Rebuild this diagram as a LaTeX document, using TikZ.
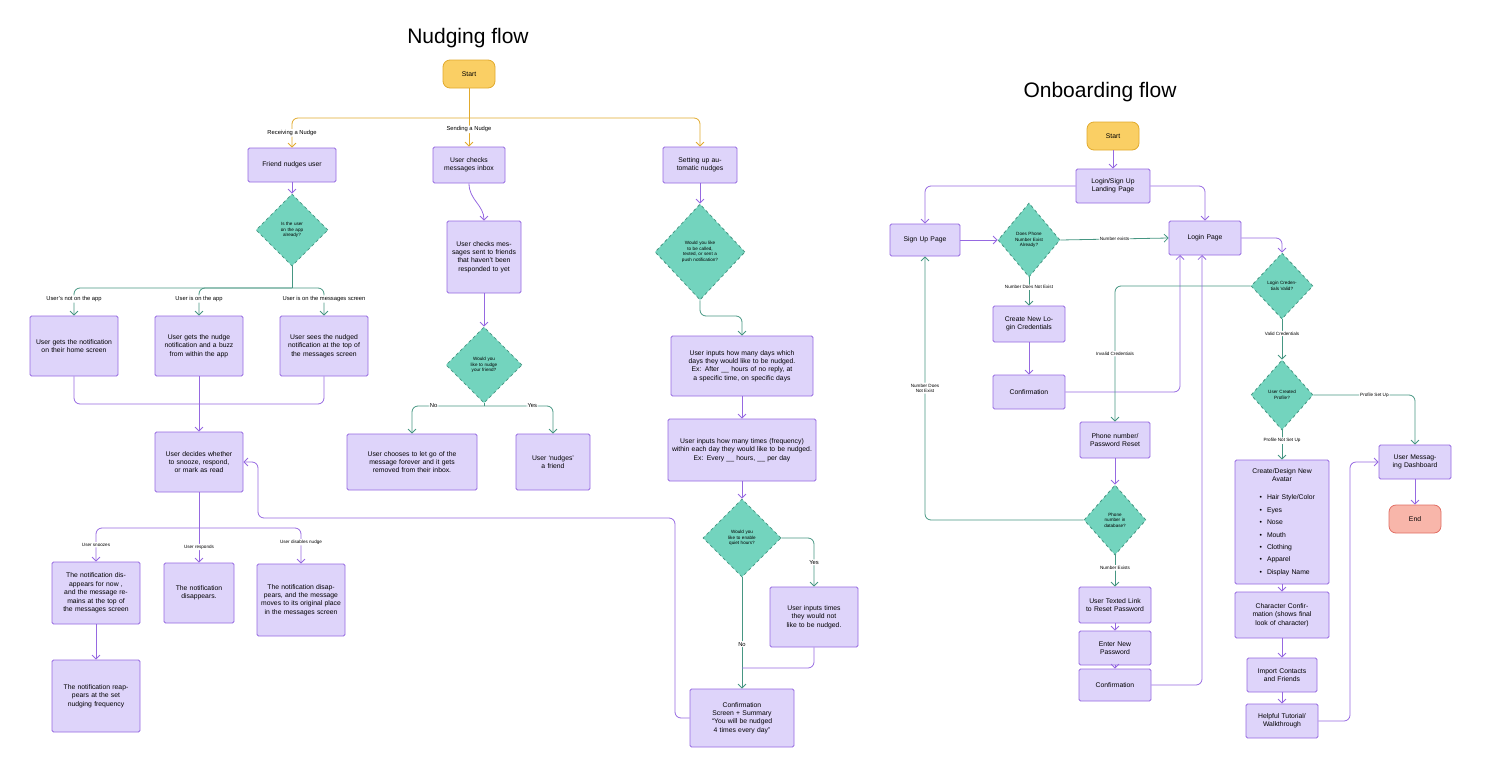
\documentclass[tikz,border=0pt]{standalone}
\usepackage{fontspec}
\setmainfont{Liberation Sans}
\usetikzlibrary{shapes.geometric,arrows.meta}
\definecolor{FlowBoxFill}{RGB}{222,212,250}
\definecolor{FlowBoxDraw}{RGB}{150,105,225}
\definecolor{FlowDiaFill}{RGB}{115,212,190}
\definecolor{FlowDiaDraw}{RGB}{70,150,130}
\definecolor{FlowStartFill}{RGB}{250,207,100}
\definecolor{FlowStartDraw}{RGB}{225,170,45}
\definecolor{FlowEndFill}{RGB}{248,182,170}
\definecolor{FlowEndDraw}{RGB}{225,110,100}

\begin{document}
\begin{tikzpicture}[x=1pt,y=-1pt,
  bx/.style n args={2}{draw=FlowBoxDraw,fill=FlowBoxFill,line width=0.8pt,rounded corners=1.5pt,
    minimum width=#1,minimum height=#2,text width=#1pt-8pt,align=center,inner sep=2pt,
    font=\fontsize{6.8}{8.4}\selectfont},
  dia/.style n args={3}{diamond,draw=FlowDiaDraw,fill=FlowDiaFill,dashed,line width=0.8pt,
    minimum width=#1,minimum height=#2,inner sep=0pt,text width=#3,align=center,
    font=\fontsize{4.6}{5.6}\selectfont},
  term/.style={draw=FlowStartDraw,fill=FlowStartFill,line width=0.8pt,rounded corners=7pt,
    minimum width=52,minimum height=28,font=\fontsize{6.8}{8}\selectfont},
  lbl/.style={fill=white,inner sep=1pt,font=\fontsize{5.8}{7}\selectfont},
  slbl/.style={fill=white,inner sep=1pt,font=\fontsize{4.6}{5.6}\selectfont},
  pl/.style={draw=FlowBoxDraw,line width=0.8pt,rounded corners=6pt},
  tl/.style={draw=FlowDiaDraw,line width=0.8pt,rounded corners=6pt},
  yl/.style={draw=FlowStartDraw,line width=0.8pt,rounded corners=6pt},
  >={Straight Barb[length=4pt,width=8pt]}]
\useasboundingbox (0,0) rectangle (1500,763);

% nudging flow
\node[font=\fontsize{21}{24}\selectfont] (t1) at (468,38) {Nudging flow};
\node[term] (s1) at (469,74) {Start};
\node[bx={88}{34}] (fr) at (292,165) {Friend nudges user};
\node[dia={72}{72}{34}] (d1) at (292,230) {Is the user on the app already?};
\node[bx={88}{60}] (b1) at (74,346) {User gets the notification on their home screen};
\node[bx={88}{60}] (b2) at (199,346) {User gets the nudge notification and a buzz from within the app};
\node[bx={88}{60}] (b3) at (324,346) {User sees the nudged notification at the top of the messages screen};
\node[bx={88}{60}] (dec) at (199,462) {User decides whether to snooze, respond, or mark as read};
\node[bx={88}{62}] (sn) at (96,593) {The notification disappears for now , and the message remains at the top of the messages screen};
\node[bx={70}{60}] (rs) at (199,593) {The notification disappears.};
\node[bx={88}{72}] (ds) at (301,600) {The notification disappears, and the message moves to its original place in the messages screen};
\node[bx={88}{72}] (ra) at (96,696) {The notification reappears at the set nudging frequency};
\node[bx={72}{36}] (ib) at (469,165) {User checks messages inbox};
\node[bx={74}{72}] (sm) at (484,257) {User checks messages sent to friends that haven't been responded to yet};
\node[dia={76}{76}{36}] (d2) at (484,365) {Would you like to nudge your friend?};
\node[bx={130}{56}] (lg) at (412,462) {User chooses to let go of the message forever and it gets removed from their inbox.};
\node[bx={74}{56}] (ng) at (553,462) {User `nudges' a friend};
\node[bx={74}{36}] (au) at (700,165) {Setting up automatic nudges};
\node[dia={90}{96}{42}] (d3) at (700,252) {Would you like to be called, texted, or sent a push notification?};
\node[bx={142}{60}] (i1) at (742,366) {User inputs how many days which days they would like to be nudged.\\Ex: After \_\_ hours of no reply, at a specific time, on specific days};
\node[bx={148}{62}] (i2) at (742,450) {User inputs how many times (frequency) within each day they would like to be nudged.\\Ex: Every \_\_ hours, \_\_ per day};
\node[dia={78}{78}{36}] (d4) at (742,538) {Would you like to enable quiet hours?};
\node[bx={88}{60}] (qt) at (814,617) {User inputs times they would not like to be nudged.};
\node[bx={104}{58}] (cf) at (742,718) {Confirmation Screen + Summary\\``You will be nudged 4 times every day''};

\draw[yl] (s1.south) -- (469,118);
\draw[yl,->] (469,118) -| node[lbl,pos=0.75]{Receiving a Nudge} (fr.north);
\draw[yl,->] (469,118) -- node[lbl,pos=0.4]{Sending a Nudge} (ib.north);
\draw[yl,->] (469,118) -| (au.north);
\draw[pl,->] (fr) -- (d1);
\draw[tl] (d1.south) -- (292,288);
\draw[tl,->] (292,288) -| node[lbl,pos=0.7]{User's not on the app} (b1.north);
\draw[tl,->] (292,288) -| node[lbl,pos=0.7]{User is on the app} (b2.north);
\draw[tl,->] (292,288) -| node[lbl,pos=0.7]{User is on the messages screen} (b3.north);
\draw[pl] (b1.south) |- (199,404);
\draw[pl] (b3.south) |- (199,404);
\draw[pl,->] (b2.south) -- (dec.north);
\draw[pl] (dec.south) -- (199,528);
\draw[pl,->] (199,528) -| node[slbl,pos=0.75]{User snoozes} (sn.north);
\draw[pl,->] (199,528) -- node[slbl,pos=0.55]{User responds} (rs.north);
\draw[pl,->] (199,528) -| node[slbl,pos=0.7]{User disables nudge} (ds.north);
\draw[pl,->] (sn) -- (ra);
\draw[pl,->] (ib.south) .. controls (469,200) and (484,205) .. (sm.north);
\draw[pl,->] (sm) -- (d2);
\draw[tl] (d2.south) -- (484,406);
\draw[tl,->] (484,406) -| node[lbl,pos=0.35]{No} (lg.north);
\draw[tl,->] (484,406) -| node[lbl,pos=0.35]{Yes} (ng.north);
\draw[pl,->] (au) -- (d3);
\draw[tl,->] (d3.south) |- (742,316) -- (i1.north);
\draw[pl,->] (i1) -- (i2);
\draw[pl,->] (i2) -- (d4);
\draw[tl,->] (d4.east) -| node[lbl,pos=0.75]{Yes} (qt.north);
\draw[tl,->] (d4.south) -- node[lbl,pos=0.6]{No} (cf.north);
\draw[pl] (qt.south) |- (742,668);
\draw[pl,->] (cf.west) -| (675,518) -| (258,462) -- (dec.east);

% onboarding flow
\node[font=\fontsize{21}{24}\selectfont] (t2) at (1100,92) {Onboarding flow};
\node[term] (s2) at (1113,136) {Start};
\node[bx={74}{34}] (lp) at (1113,186) {Login/Sign Up Landing Page};
\node[bx={70}{32}] (su) at (925,240) {Sign Up Page};
\node[bx={72}{34}] (li) at (1205,238) {Login Page};
\node[dia={62}{74}{30}] (d5) at (1029,240) {Does Phone Number Exist Already?};
\node[bx={72}{36}] (cr) at (1029,324) {Create New Login Credentials};
\node[bx={72}{34}] (c2) at (1029,392) {Confirmation};
\node[dia={62}{66}{30}] (d6) at (1282,286) {Login Credentials Valid?};
\node[dia={62}{70}{30}] (d7) at (1282,395) {User Created Profile?};
\node[bx={72}{34}] (db) at (1415,462) {User Messaging Dashboard};
\node[term,draw=FlowEndDraw,fill=FlowEndFill] (en) at (1415,519) {End};
\node[bx={94}{124},align=left,text width=80] (av) at (1282,522) {\centering Create/Design New Avatar\par
  \begin{itemize}\setlength{\itemsep}{0pt}\setlength{\parsep}{0pt}\setlength{\topsep}{1pt}\setlength{\leftmargin}{8pt}
  \item Hair Style/Color \item Eyes \item Nose \item Mouth \item Clothing \item Apparel \item Display Name\end{itemize}};
\node[bx={94}{46}] (cc) at (1282,615) {Character Confirmation (shows final look of character)};
\node[bx={70}{34}] (im) at (1282,675) {Import Contacts and Friends};
\node[bx={72}{34}] (tu) at (1282,721) {Helpful Tutorial/ Walkthrough};
\node[bx={70}{36}] (pr) at (1115,440) {Phone number/ Password Reset};
\node[dia={62}{70}{30}] (d8) at (1115,520) {Phone number in database?};
\node[bx={72}{36}] (tx) at (1115,605) {User Texted Link to Reset Password};
\node[bx={72}{34}] (ep) at (1115,648) {Enter New Password};
\node[bx={72}{32}] (c3) at (1115,685) {Confirmation};

\draw[pl,->] (s2) -- (lp);
\draw[pl,->] (lp.west) -| (su.north);
\draw[pl,->] (lp.east) -| (li.north);
\draw[pl,->] (su) -- (d5);
\draw[tl,->] (d5.east) -- node[slbl]{Number exists} (li.west);
\draw[tl,->] (d5.south) -- node[slbl,pos=0.35]{Number Does Not Exist} (cr.north);
\draw[pl,->] (cr) -- (c2);
\draw[pl,->] (c2.east) -| (1180,255);
\draw[pl,->] (li.east) -| (d6.north);
\draw[tl,->] (d6.west) -| node[slbl,pos=0.75]{Invalid Credentials} (pr.north);
\draw[tl,->] (d6.south) -- node[slbl,pos=0.35]{Valid Credentials} (d7.north);
\draw[tl,->] (d7.east) -| node[slbl,pos=0.3]{Profile Set Up} (db.north);
\draw[tl,->] (d7.south) -- node[slbl,pos=0.35]{Profile Not Set Up} (av.north);
\draw[pl,->] (db) -- (en);
\draw[pl,->] (av) -- (cc);
\draw[pl,->] (cc) -- (im);
\draw[pl,->] (im) -- (tu);
\draw[pl,->] (tu.east) -| (1350,462) -- (db.west);
\draw[pl,->] (pr) -- (d8);
\draw[tl,->] (d8.west) -| node[slbl,pos=0.75,align=center]{Number Does\\Not Exist} (su.south);
\draw[tl,->] (d8.south) -- node[slbl,pos=0.4]{Number Exists} (tx.north);
\draw[pl,->] (tx) -- (ep);
\draw[pl,->] (ep) -- (c3);
\draw[pl,->] (c3.east) -| (1202,255);
\end{tikzpicture}
\end{document}
